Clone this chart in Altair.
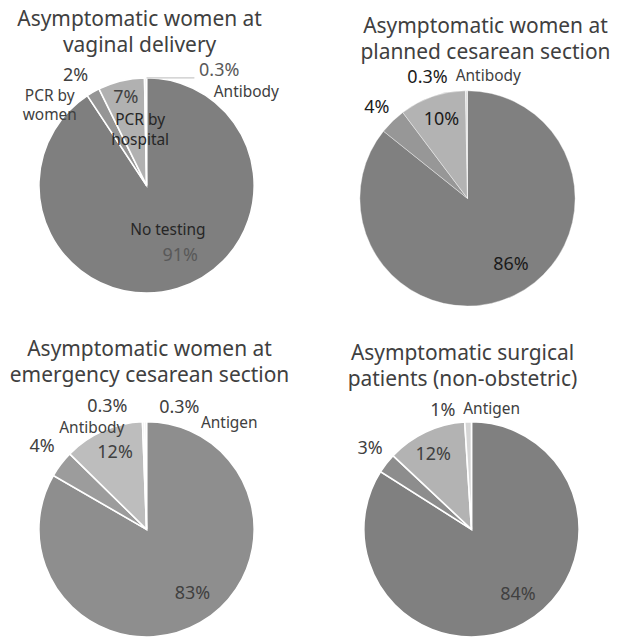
import altair as alt
import pandas as pd

# ---------------- data ----------------
TITLES = [
    ["Asymptomatic women at", "vaginal delivery"],
    ["Asymptomatic women at", "planned cesarean section"],
    ["Asymptomatic women at", "emergency cesarean section"],
    ["Asymptomatic surgical", "patients (non-obstetric)"],
]
CATEGORIES = [
    ["No testing", "PCR by women", "PCR by hospital", "Antibody"],
    ["No testing", "PCR by women", "PCR by hospital", "Antibody"],
    ["No testing", "PCR by women", "PCR by hospital", "Antibody", "Antigen"],
    ["No testing", "PCR by women", "PCR by hospital", "Antigen"],
]
VALUES = [
    [91, 2, 7, 0.3],
    [86, 4, 10, 0.3],
    [83, 4, 12, 0.3, 0.3],
    [84, 3, 12, 1],
]
NAME_LABELS = [
    ["No testing", "PCR by\nwomen", "PCR by\nhospital", "Antibody"],
    ["", "", "", "Antibody"],
    ["", "", "", "Antibody", "Antigen"],
    ["", "", "", "Antigen"],
]

# ---------------- styles ----------------
SLICE_COLORS = [
    ["#7f7f7f", "#959595", "#b1b1b1", "#e3e3e3"],
    ["#808080", "#979797", "#b3b3b3", "#e0e0e0"],
    ["#8e8e8e", "#9c9c9c", "#bdbdbd", "#e0e0e0", "#e8e8e8"],
    ["#808080", "#8d8d8d", "#b3b3b3", "#d6d6d6"],
]
PCT_COLORS = [
    ["#595959", "#404040", "#404040", "#595959"],
    ["#1a1a1a", "#1a1a1a", "#1a1a1a", "#1a1a1a"],
    ["#404040", "#404040", "#404040", "#404040", "#404040"],
    ["#404040", "#404040", "#404040", "#404040"],
]
NAME_COLORS = [
    ["#262626", "#404040", "#262626", "#404040"],
    ["#404040", "#404040", "#404040", "#404040"],
    ["#404040", "#404040", "#404040", "#404040", "#404040"],
    ["#404040", "#404040", "#404040", "#404040"],
]
# label placement: (radius from centre, dx, dy)
PCT_PLACE = [
    [(79, 11, -5), (129, -7, 2), (88, 0, -2), (115, 74, 0)],
    [(80, 9, -5), (129, -1, 2), (83, 1, 0), (121, -39, 0)],
    [(80, 6, -4), (133, 1, -2), (83, 2, -1), (121, -36, -2), (121, 34, -1)],
    [(80, 8, -4), (130, 1, -1), (83, -3, 1), (119, -25, 0)],
]
NAME_PLACE = [
    [(50, 7, -3), (127, -34, 20), (57, 7, -10), (94, 101, 0)],
    [(0, 0, 0), (0, 0, 0), (0, 0, 0), (123, 22, 0)],
    [(0, 0, 0), (0, 0, 0), (0, 0, 0), (103, -52, 1), (107, 84, 0)],
    [(0, 0, 0), (0, 0, 0), (0, 0, 0), (121, 24, 0)],
]
STROKE_W = [1.6, 0.4, 1.6, 1.6]
R = 108
W = [278, 278, 278, 286]
H = [218, 244, 218, 218]
TITLE_DX = [-7, 18, 3, -9]
TITLE_OFFSET = [6, 6, 12, 12]
FONT = "Noto Sans"


def pie(i):
    vals = VALUES[i]
    total = float(sum(vals))
    rows = []
    cum = 0.0
    for j, (c, v) in enumerate(zip(CATEGORIES[i], vals)):
        pr, pdx, pdy = PCT_PLACE[i][j]
        nr, ndx, ndy = NAME_PLACE[i][j]
        rows.append(dict(idx=j, category=c, value=v, mid=cum + v / 2.0,
                         pct=f"{v:g}%", name=NAME_LABELS[i][j],
                         fill=SLICE_COLORS[i][j],
                         pcol=PCT_COLORS[i][j], ncol=NAME_COLORS[i][j],
                         pr=pr, pdx=pdx, pdy=pdy, nr=nr, ndx=ndx, ndy=ndy))
        cum += v
    df = pd.DataFrame(rows)
    tscale = alt.Scale(domain=[0, total], range=[0, 6.283185307179586])
    base = alt.Chart(df)
    arcs = base.mark_arc(radius=R, stroke="white", strokeWidth=STROKE_W[i]).encode(
        theta=alt.Theta("value:Q", stack=True, scale=tscale),
        order=alt.Order("idx:Q"),
        color=alt.Color("fill:N", scale=None),
    )
    pct = base.mark_text(font=FONT, fontSize=18, dx={"expr": "datum.pdx"},
                         dy={"expr": "datum.pdy"}).encode(
        theta=alt.Theta("mid:Q", stack=None, scale=tscale),
        radius=alt.Radius("pr:Q", scale=None),
        text="pct:N",
        color=alt.Color("pcol:N", scale=None),
    )
    names = base.mark_text(font=FONT, fontSize=15.5, lineBreak="\n", lineHeight=20,
                           dx={"expr": "datum.ndx"}, dy={"expr": "datum.ndy"}).encode(
        theta=alt.Theta("mid:Q", stack=None, scale=tscale),
        radius=alt.Radius("nr:Q", scale=None),
        text="name:N",
        color=alt.Color("ncol:N", scale=None),
    )
    layers = [arcs, pct, names]
    if i == 0:
        leader = alt.Chart(pd.DataFrame({"k": [0]})).mark_rule(
            color="#c8c8c8", strokeWidth=1.2
        ).encode(
            x=alt.value(W[i] / 2), x2=alt.value(W[i] / 2 + 48),
            y=alt.value(H[i] / 2 - R),
        )
        layers.append(leader)
    return alt.layer(*layers).properties(
        width=W[i], height=H[i],
        title=alt.TitleParams(TITLES[i], fontSize=21, font=FONT, fontWeight="normal",
                              color="#404040", lineHeight=26, anchor="middle",
                              frame="group", dx=TITLE_DX[i], offset=TITLE_OFFSET[i]),
    )


row1 = alt.hconcat(pie(0), pie(1), spacing=44, bounds="flush")
row2 = alt.hconcat(pie(2), pie(3), spacing=44, bounds="flush")
chart = alt.vconcat(row1, row2, spacing=19).properties(
    padding=0
).configure_view(stroke=None)

chart.save("out.html", embed_options={"renderer": "svg", "actions": False})
